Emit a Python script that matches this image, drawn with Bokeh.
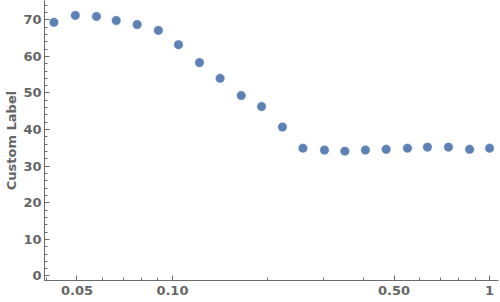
from bokeh.plotting import figure
from bokeh.models import FixedTicker, SingleIntervalTicker, Range1d
from bokeh.embed import file_html
from bokeh.resources import INLINE

x_vals = [0.0423, 0.0494, 0.0576, 0.0665, 0.0774, 0.0903, 0.1045, 0.1217, 0.1414, 0.1648,
          0.191, 0.2223, 0.258, 0.3016, 0.3497, 0.406, 0.472, 0.551, 0.637, 0.742, 0.865, 1.0]
y_vals = [69.3, 71.2, 70.9, 69.8, 68.7, 67.1, 63.2, 58.3, 54.0, 49.3,
          46.3, 40.7, 34.9, 34.4, 34.1, 34.4, 34.6, 34.9, 35.2, 35.2, 34.6, 34.9]

x_major = [0.05, 0.1, 0.5, 1.0]
x_major_labels = ["0.05", "0.10", "0.50", "1"]
x_minor = [0.04, 0.06, 0.07, 0.08, 0.09, 0.2, 0.3, 0.4, 0.6, 0.7, 0.8, 0.9]
y_label = "Custom Label"

p = figure(width=500, height=302, x_axis_type="log", output_backend="svg",
           toolbar_location=None,
           x_range=Range1d(0.0395, 1.067), y_range=Range1d(-1.23, 75.27),
           min_border_left=44, min_border_right=2, min_border_top=0, min_border_bottom=22)
p.outline_line_color = None
p.grid.visible = False
p.background_fill_color = "white"
p.border_fill_color = "white"

p.scatter(x_vals, y_vals, size=9.5, fill_color="#5E81B5", line_color="white",
          line_alpha=0.6, line_width=0.8)

ax = p.xaxis[0]
ax.ticker = FixedTicker(ticks=x_major, minor_ticks=x_minor)
ax.major_label_overrides = {t: l for t, l in zip(x_major, x_major_labels)}
ay = p.yaxis[0]
ay.ticker = SingleIntervalTicker(interval=10, num_minor_ticks=5)
ay.axis_label = y_label

for a in (ax, ay):
    a.axis_line_color = "#6b6b6b"
    a.major_tick_line_color = "#6b6b6b"
    a.minor_tick_line_color = "#6b6b6b"
    a.major_tick_in = 5
    a.major_tick_out = 0
    a.minor_tick_in = 3
    a.minor_tick_out = 0
    a.major_label_text_font = "DejaVu Sans"
    a.major_label_text_font_style = "bold"
    a.major_label_text_font_size = "13px"
    a.major_label_text_color = "#666666"
    a.axis_label_text_font = "DejaVu Sans"
    a.axis_label_text_font_style = "bold"
    a.axis_label_text_font_size = "13px"
    a.axis_label_text_color = "#666666"

ax.major_label_standoff = 5
ay.major_label_standoff = 3
ay.axis_label_standoff = 1

open("out.html", "w").write(file_html(p, INLINE))
